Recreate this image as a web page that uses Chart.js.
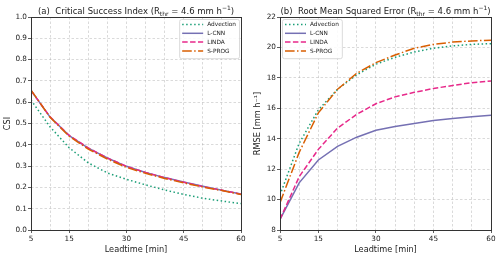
<!DOCTYPE html>
<html>
<head>
<meta charset="utf-8">
<script src="https://cdn.jsdelivr.net/npm/chart.js@4.4.0/dist/chart.umd.min.js"></script>
<style>
  html, body { margin: 0; padding: 0; background: #fff; }
  .wrap { display: flex; width: 500px; height: 258px; }
  .panel { width: 250px; height: 258px; }
</style>
</head>
<body>
<div class="wrap">
  <div class="panel"><canvas id="csiChart" width="250" height="258"></canvas></div>
  <div class="panel"><canvas id="rmseChart" width="250" height="258"></canvas></div>
</div>
<script>
// --- Data ---
const leadtimes = [5, 10, 15, 20, 25, 30, 35, 40, 45, 50, 55, 60];
const labeledLeadtimes = [5, 15, 30, 45, 60];
const seriesNames = ['Advection', 'L-CNN', 'LINDA', 'S-PROG'];

const csiAdvection = [0.610, 0.484, 0.386, 0.315, 0.268, 0.238, 0.212, 0.188, 0.167, 0.149, 0.136, 0.124];
const csiLcnn      = [0.655, 0.530, 0.443, 0.384, 0.338, 0.299, 0.270, 0.246, 0.225, 0.205, 0.187, 0.169];
const csiLinda     = [0.655, 0.531, 0.444, 0.385, 0.338, 0.299, 0.270, 0.246, 0.224, 0.204, 0.187, 0.168];
const csiSprog     = [0.657, 0.529, 0.440, 0.380, 0.333, 0.294, 0.266, 0.242, 0.221, 0.202, 0.185, 0.167];

const rmseAdvection = [10.3, 13.7, 15.9, 17.25, 18.2, 18.9, 19.35, 19.7, 19.95, 20.1, 20.2, 20.25];
const rmseLcnn      = [8.7, 11.1, 12.6, 13.5, 14.1, 14.55, 14.8, 15.0, 15.2, 15.33, 15.45, 15.55];
const rmseLinda     = [8.7, 11.5, 13.3, 14.7, 15.6, 16.3, 16.75, 17.05, 17.3, 17.5, 17.68, 17.8];
const rmseSprog     = [9.8, 13.1, 15.7, 17.25, 18.3, 19.0, 19.5, 19.95, 20.2, 20.35, 20.43, 20.48];

const FONT = "'DejaVu Sans', sans-serif";

// line styles per method (Dark2 colours, matplotlib-like dashes)
const styles = [
  { color: '#1b9e77', dash: [1.5, 2.5] },
  { color: '#7570b3', dash: [] },
  { color: '#e7298a', dash: [5.5, 2.4] },
  { color: '#d95f02', dash: [9.6, 2.4, 1.5, 2.4] }
];

function makeDatasets(seriesList) {
  return seriesList.map((vals, i) => ({
    label: seriesNames[i],
    data: leadtimes.map((t, j) => ({ x: t, y: vals[j] })),
    borderColor: styles[i].color,
    borderDash: styles[i].dash,
    borderWidth: 1.5,
    pointRadius: 0,
    tension: 0,
    fill: false,
    order: seriesList.length - i   // last series on top, like matplotlib
  }));
}

// --- Title with sub/superscript ---
const richTitle = {
  id: 'richTitle',
  afterDraw(chart, args, opts) {
    const ctx = chart.ctx;
    const area = chart.chartArea;
    const big = '8.5px ' + FONT, small = '6px ' + FONT;
    let total = 0;
    opts.parts.forEach(p => {
      ctx.font = p.sub || p.sup ? small : big;
      total += ctx.measureText(p.t).width;
    });
    let x = (area.left + area.right) / 2 - total / 2;
    ctx.save();
    ctx.fillStyle = '#222';
    ctx.textBaseline = 'alphabetic';
    ctx.textAlign = 'left';
    opts.parts.forEach(p => {
      ctx.font = p.sub || p.sup ? small : big;
      const dy = p.sub ? 2 : (p.sup ? -3.5 : 0);
      ctx.fillText(p.t, x, 13.5 + dy);
      x += ctx.measureText(p.t).width;
    });
    ctx.restore();
  }
};

// --- Frame around plot (all four spines) ---
const frame = {
  id: 'frame',
  afterDatasetsDraw(chart) {
    const { ctx, chartArea: a } = chart;
    ctx.save();
    ctx.strokeStyle = '#333';
    ctx.lineWidth = 1;
    ctx.strokeRect(Math.round(a.left) + 0.5, Math.round(a.top) + 0.5,
      Math.round(a.right - a.left), Math.round(a.bottom - a.top));
    ctx.restore();
  }
};

// --- Legend box inside plot ---
const boxLegend = {
  id: 'boxLegend',
  afterDraw(chart, args, opts) {
    const { ctx, chartArea: a } = chart;
    const ds = chart.data.datasets;
    ctx.save();
    ctx.font = '5.8px ' + FONT;
    const textW = Math.max(...ds.map(d => ctx.measureText(d.label).width));
    const lineLen = 21, pad = 3, gap = 4, rowH = 8.8;
    const w = pad + lineLen + gap + textW + pad;
    const h = rowH * ds.length + 4;
    const x0 = opts.side === 'right' ? a.right - 2 - w : a.left + 2;
    const y0 = a.top + 2;
    ctx.fillStyle = 'rgba(255,255,255,0.85)';
    ctx.strokeStyle = '#d0d0d0';
    ctx.lineWidth = 0.8;
    ctx.beginPath();
    ctx.roundRect(x0 + 0.5, y0 + 0.5, w, h, 2);
    ctx.fill();
    ctx.stroke();
    ds.forEach((d, i) => {
      const cy = y0 + 5.5 + i * rowH;
      ctx.strokeStyle = d.borderColor;
      ctx.lineWidth = 1.5;
      ctx.setLineDash(d.borderDash);
      ctx.beginPath();
      ctx.moveTo(x0 + pad, cy);
      ctx.lineTo(x0 + pad + lineLen, cy);
      ctx.stroke();
      ctx.setLineDash([]);
      ctx.fillStyle = '#222';
      ctx.textBaseline = 'middle';
      ctx.fillText(d.label, x0 + pad + lineLen + gap, cy + 0.3);
    });
    ctx.restore();
  }
};

function makeOptions(cfg) {
  const gridColor = 'rgba(170,170,170,0.55)';
  const tickColor = '#333';
  return {
    responsive: false,
    animation: false,
    layout: { padding: { top: 17, right: cfg.padRight, left: 0, bottom: 0 } },
    plugins: {
      legend: { display: false },
      tooltip: { enabled: false },
      richTitle: { parts: cfg.titleParts },
      boxLegend: { side: cfg.legendSide }
    },
    scales: {
      x: {
        type: 'linear',
        min: 5, max: 60,
        afterFit: s => { s.height = 28; },
        afterBuildTicks: s => { s.ticks = leadtimes.map(v => ({ value: v })); },
        ticks: {
          autoSkip: false,
          maxRotation: 0,
          padding: 2,
          color: '#222',
          font: { family: FONT, size: 7.3 },
          callback: v => labeledLeadtimes.includes(v) ? String(v) : ''
        },
        grid: {
          color: gridColor,
          lineWidth: 0.8,
          borderDash: [2.5, 2],
          tickLength: 3,
          tickBorderDash: [],
          tickWidth: 0.8,
          tickColor: c => (c.tick && labeledLeadtimes.includes(c.tick.value)) ? tickColor : 'rgba(0,0,0,0)'
        },
        border: { display: false, dash: [2.5, 2] },
        title: {
          display: true, text: 'Leadtime [min]', color: '#222',
          font: { family: FONT, size: 8.2 }, padding: { top: 2, bottom: 3 }
        }
      },
      y: {
        min: cfg.yMin, max: cfg.yMax,
        afterFit: s => { s.width = cfg.yWidth; },
        ticks: {
          stepSize: cfg.yStep,
          padding: 1,
          color: '#222',
          font: { family: FONT, size: 7.3 },
          callback: cfg.yFormat
        },
        grid: {
          color: gridColor,
          lineWidth: 0.8,
          borderDash: [2.5, 2],
          tickLength: 3,
          tickBorderDash: [],
          tickWidth: 0.8,
          tickColor: tickColor
        },
        border: { display: false, dash: [2.5, 2] },
        title: {
          display: true, text: cfg.yTitle, color: '#222',
          font: { family: FONT, size: 8.2 }, padding: { top: 3, bottom: 2 }
        }
      }
    }
  };
}

new Chart(document.getElementById('csiChart').getContext('2d'), {
  type: 'line',
  data: { datasets: makeDatasets([csiAdvection, csiLcnn, csiLinda, csiSprog]) },
  options: makeOptions({
    padRight: 9, yWidth: 31, yMin: 0, yMax: 1, yStep: 0.1,
    yFormat: v => v.toFixed(1),
    yTitle: 'CSI',
    legendSide: 'right',
    titleParts: [
      { t: '(a)  Critical Success Index (R' }, { t: 'thr', sub: true },
      { t: ' = 4.6 mm h' }, { t: '\u22121', sup: true }, { t: ')' }
    ]
  }),
  plugins: [frame, boxLegend, richTitle]
});

new Chart(document.getElementById('rmseChart').getContext('2d'), {
  type: 'line',
  data: { datasets: makeDatasets([rmseAdvection, rmseLcnn, rmseLinda, rmseSprog]) },
  options: makeOptions({
    padRight: 9, yWidth: 30, yMin: 8, yMax: 22, yStep: 2,
    yFormat: v => String(v),
    yTitle: 'RMSE [mm h\u207B\u00B9]',
    legendSide: 'left',
    titleParts: [
      { t: '(b)  Root Mean Squared Error (R' }, { t: 'thr', sub: true },
      { t: ' = 4.6 mm h' }, { t: '\u22121', sup: true }, { t: ')' }
    ]
  }),
  plugins: [frame, boxLegend, richTitle]
});
</script>
</body>
</html>
